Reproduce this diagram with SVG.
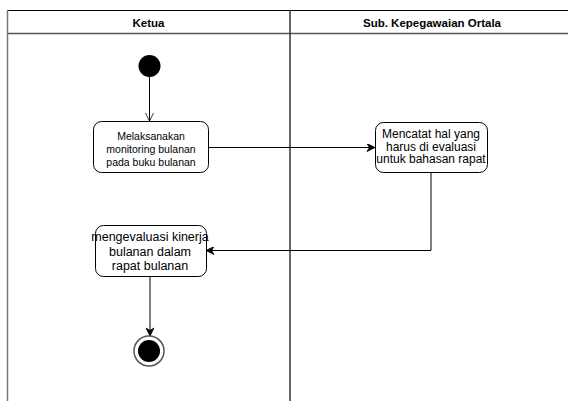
<svg xmlns="http://www.w3.org/2000/svg" width="568" height="401" viewBox="0 0 568 401">
<style>
.lane{fill:none;stroke:#000;stroke-width:1}
.hdr{font-family:"Liberation Sans",Arial,sans-serif;font-size:11.5px;font-weight:bold;fill:#000;text-anchor:middle}
.box{fill:#fff;stroke:#000;stroke-width:1}
.t{font-family:"Liberation Sans",Arial,sans-serif;fill:#000;text-anchor:middle}
.t10{font-size:10.5px}
.t12{font-size:12px}
.t125{font-size:12.5px}
.edge{fill:none;stroke:#000;stroke-width:1}
</style>
<defs>
<marker id="open" viewBox="0 0 10 10" refX="10" refY="5" markerWidth="8" markerHeight="10" orient="auto" markerUnits="userSpaceOnUse">
<path d="M0,0 L10,5 L0,10" fill="none" stroke="#000" stroke-width="1"/>
</marker>
<marker id="solid" viewBox="0 0 10 10" refX="10" refY="5" markerWidth="10" markerHeight="8" orient="auto" markerUnits="userSpaceOnUse">
<path d="M0,0 L10,5 L0,10 L3,5 Z" fill="#000" stroke="#000" stroke-width="1"/>
</marker>
</defs>
<g id="swimlanes">
<line class="lane" x1="7" y1="10.5" x2="568" y2="10.5"/>
<line x1="7" y1="33.5" x2="568" y2="33.5" stroke="#555" stroke-width="1.5"/>
<line x1="7.5" y1="10" x2="7.5" y2="401" stroke="#777" stroke-width="1.5"/>
<line x1="290" y1="10" x2="290" y2="401" stroke="#333" stroke-width="1.5"/>
<text class="hdr" x="148.5" y="26.5">Ketua</text>
<text class="hdr" x="432" y="26.5">Sub. Kepegawaian Ortala</text>
</g>
<g id="connectors">
<line class="edge" x1="149.5" y1="77" x2="149.5" y2="121" marker-end="url(#open)"/>
<line class="edge" x1="208" y1="147.5" x2="375" y2="147.5" marker-end="url(#solid)"/>
<polyline class="edge" points="431,173 431,250.5 206,250.5" marker-end="url(#solid)"/>
<line class="edge" x1="150" y1="277" x2="150" y2="336" marker-end="url(#solid)"/>
</g>
<g id="start">
<circle cx="149.5" cy="66" r="11" fill="#000"/>
</g>
<g id="act1">
<rect class="box" x="93.5" y="121.5" width="115" height="51" rx="8"/>
<text class="t t10" x="151" y="139.5">Melaksanakan</text>
<text class="t t10" x="151" y="152.5">monitoring bulanan</text>
<text class="t t10" x="151" y="165.5">pada buku bulanan</text>
</g>
<g id="act2">
<rect class="box" x="375.5" y="122.5" width="112" height="50" rx="8"/>
<text class="t t12" x="431" y="138">Mencatat hal yang</text>
<text class="t t12" x="431" y="150.5">harus di evaluasi</text>
<text class="t t12" x="431" y="163">untuk bahasan rapat</text>
</g>
<g id="act3">
<rect class="box" x="95.5" y="225.5" width="111" height="51" rx="8"/>
<text class="t t125" x="150" y="241">mengevaluasi kinerja</text>
<text class="t t125" x="150" y="255.5">bulanan dalam</text>
<text class="t t125" x="150" y="269.5">rapat bulanan</text>
</g>
<g id="end">
<circle cx="149" cy="351" r="15" fill="#fff" stroke="#555" stroke-width="1.5"/>
<circle cx="149" cy="351" r="11" fill="#000"/>
</g>
</svg>
